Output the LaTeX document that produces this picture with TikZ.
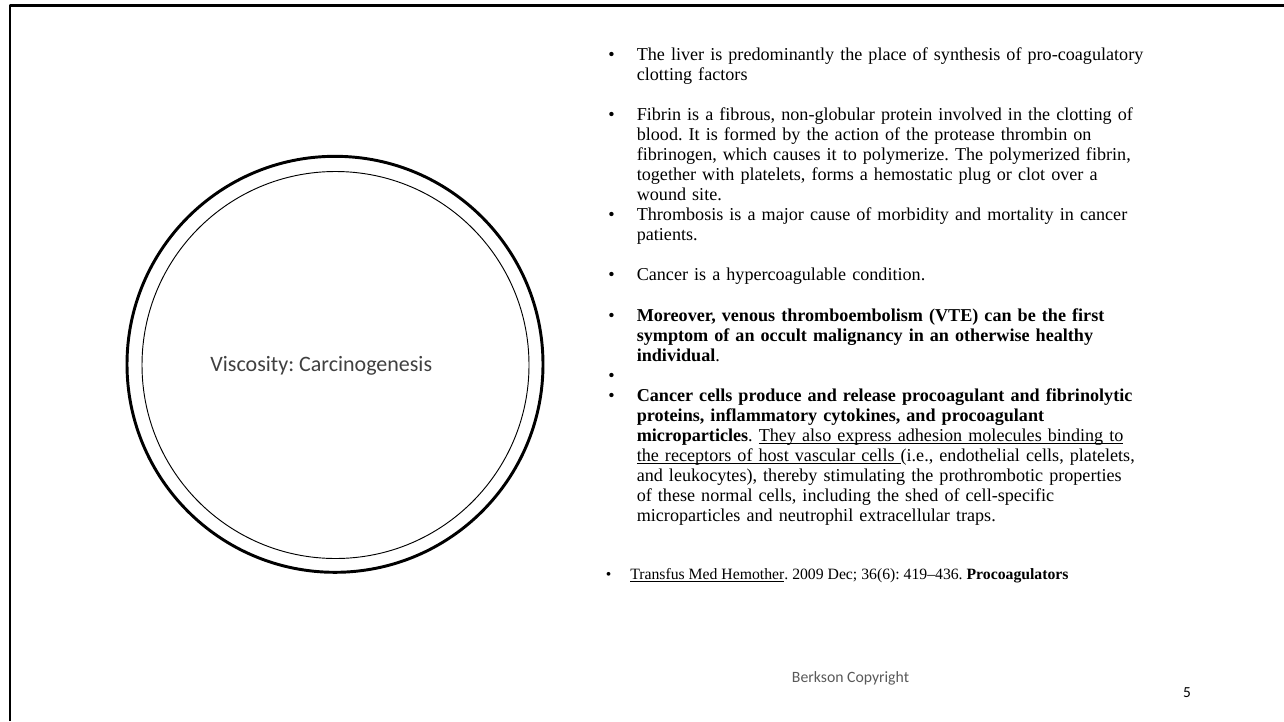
\documentclass[tikz,border=0pt]{standalone}
\usepackage{fontspec}
\setmainfont{Liberation Serif}
\newfontfamily\slidefont{Carlito}
\usetikzlibrary{positioning}
\frenchspacing
\newcommand\ul[1]{\setbox0=\hbox{#1}\leavevmode\rlap{\vrule height -1.3pt depth 2pt width \wd0}\box0}

\tikzset{
  item/.style={anchor=base west, inner sep=0pt, align=left, text width=460pt,
    font=\fontsize{13.6}{15}\selectfont},
  dot/.style={anchor=base, inner sep=0pt, font=\fontsize{13.6}{15}\selectfont},
  smallitem/.style={anchor=base west, inner sep=0pt, font=\fontsize{11.8}{14}\selectfont},
}

\begin{document}
\begin{tikzpicture}[line cap=round,line join=round,x=0.75pt,y=-0.75pt]
  \useasboundingbox (0,0) rectangle (1284,721);
  % slide frame
  \draw [line width=2.2pt,line cap=butt] (10,721) -- (10,5.5) -- (1284,5.5);
  % rings
  \draw [line width=2.2pt] (335,364.3) circle (208);
  \draw [line width=0.7pt] (335.5,365) circle (193.5);
  \node [anchor=base, inner sep=0pt, text=black!75, font=\slidefont\fontsize{16.5}{20}\selectfont] (title) at (321.3,371) {Viscosity: Carcinogenesis};
  % bullets
  \node [dot] (d1) at (611.5,60) {•};
  \node [item] (liver) at (636.5,60) {The liver is predominantly the place of synthesis of pro-coagulatory\\clotting factors};
  \node [dot] (d2) at (611.5,120.5) {•};
  \node [item] (fibrin) at (636.5,120.5) {Fibrin is a fibrous, non-globular protein involved in the clotting of\\blood. It is formed by the action of the protease thrombin on\\fibrinogen, which causes it to polymerize. The polymerized fibrin,\\together with platelets, forms a hemostatic plug or clot over a\\wound site.};
  \node [dot] (d3) at (611.5,220.5) {•};
  \node [item] (thromb) at (636.5,220.5) {Thrombosis is a major cause of morbidity and mortality in cancer\\patients.};
  \node [dot] (d4) at (611.5,280.5) {•};
  \node [item] (hyper) at (636.5,280.5) {Cancer is a hypercoagulable condition.};
  \node [dot] (d5) at (611.5,321.5) {•};
  \node [item] (vte) at (636.5,321.5) {\textbf{Moreover, venous thromboembolism (VTE) can be the first\\symptom of an occult malignancy in an otherwise healthy\\individual}.};
  \node [dot] (d6) at (611.5,381) {•};
  \node [dot] (d7) at (611.5,401.5) {•};
  \node [item] (cells) at (636.5,401.5) {\textbf{Cancer cells produce and release procoagulant and fibrinolytic\\proteins, inflammatory cytokines, and procoagulant\\microparticles}. \ul{They also express adhesion molecules binding to}\\\ul{the receptors of host vascular cells\ }(i.e., endothelial cells, platelets,\\and leukocytes), thereby stimulating the prothrombotic properties\\of these normal cells, including the shed of cell-specific\\microparticles and neutrophil extracellular traps.};
  \node [dot, font=\fontsize{11.8}{14}\selectfont] (d8) at (608.5,579) {•};
  \node [smallitem] (ref) at (630,579) {\ul{Transfus Med Hemother}. 2009 Dec; 36(6): 419–436. \textbf{Procoagulators}};
  % footer
  \node [anchor=base, inner sep=0pt, text=black!65, font=\slidefont\fontsize{11.8}{14}\selectfont] (footer) at (850.5,682) {Berkson Copyright};
  \node [anchor=base, inner sep=0pt, font=\slidefont\fontsize{11.5}{14}\selectfont] (page) at (1187,697) {5};
\end{tikzpicture}
\end{document}
